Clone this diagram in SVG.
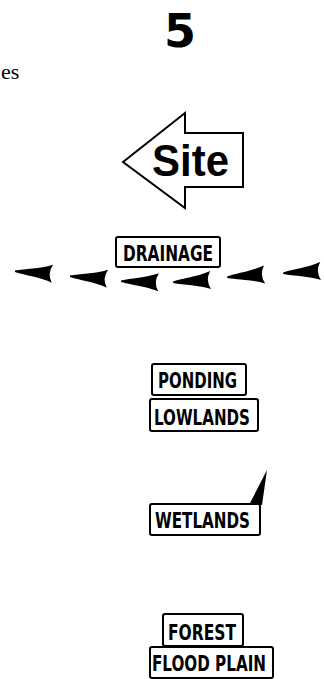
<svg xmlns="http://www.w3.org/2000/svg" width="324" height="679" viewBox="0 0 324 679">
<style>
.box{fill:#fff;stroke:#000;stroke-width:2}
.lbl{font-family:"DejaVu Sans Condensed","Liberation Sans Narrow","DejaVu Sans",sans-serif;font-weight:bold;font-size:21px;fill:#000}
</style>
<defs>
<path id="dart" d="M0,0.5 C10,-1.5 24,-1.5 38,-6 Q32,3 37,12 C26,7 10,5 0,2 Z" fill="#000"/>
</defs>
<rect width="324" height="679" fill="#fff"/>
<text x="164" y="47" font-family="DejaVu Sans" font-weight="bold" font-size="46" textLength="32" lengthAdjust="spacingAndGlyphs">5</text>
<text x="1" y="79" font-family="Liberation Serif" font-size="22">es</text>
<g id="site">
<path d="M123,162 L185,113 L185,133 L243,133 L243,187 L185,187 L185,208 Z" fill="#fff" stroke="#000" stroke-width="2" stroke-linejoin="miter"/>
<text x="152" y="176" font-family="Liberation Sans" font-weight="bold" font-size="45" textLength="77" lengthAdjust="spacingAndGlyphs">Site</text>
</g>
<g id="drainage">
<rect class="box" x="116" y="237" width="104" height="30" rx="2"/>
<text class="lbl" x="123" y="261" textLength="90" lengthAdjust="spacingAndGlyphs">DRAINAGE</text>
</g>
<g id="connectors">
<use href="#dart" transform="translate(15,270) rotate(1)"/>
<use href="#dart" transform="translate(70,275) rotate(1)"/>
<use href="#dart" transform="translate(121,280) rotate(-1)"/>
<use href="#dart" transform="translate(173,281) rotate(-6)"/>
<use href="#dart" transform="translate(227,276) rotate(-7)"/>
<use href="#dart" transform="translate(283,272) rotate(-6)"/>
</g>
<g id="ponding">
<rect class="box" x="152" y="364" width="94" height="31" rx="2"/>
<text class="lbl" x="158" y="388" textLength="79" lengthAdjust="spacingAndGlyphs">PONDING</text>
</g>
<g id="lowlands">
<rect class="box" x="150" y="399" width="108" height="32" rx="2"/>
<text class="lbl" x="154" y="425" textLength="96" lengthAdjust="spacingAndGlyphs">LOWLANDS</text>
</g>
<g id="wetlands">
<rect class="box" x="150" y="504" width="110" height="31" rx="2"/>
<polygon points="249,505 267,470 262,505" fill="#000"/>
<text class="lbl" x="155" y="528" textLength="95" lengthAdjust="spacingAndGlyphs">WETLANDS</text>
</g>
<g id="forest">
<rect class="box" x="163" y="614" width="80" height="32" rx="2"/>
<text class="lbl" x="168" y="640" textLength="68" lengthAdjust="spacingAndGlyphs">FOREST</text>
</g>
<g id="floodplain">
<rect class="box" x="150" y="647" width="123" height="31" rx="2"/>
<text class="lbl" x="152" y="671" textLength="114" lengthAdjust="spacingAndGlyphs">FLOOD PLAIN</text>
</g>
</svg>
